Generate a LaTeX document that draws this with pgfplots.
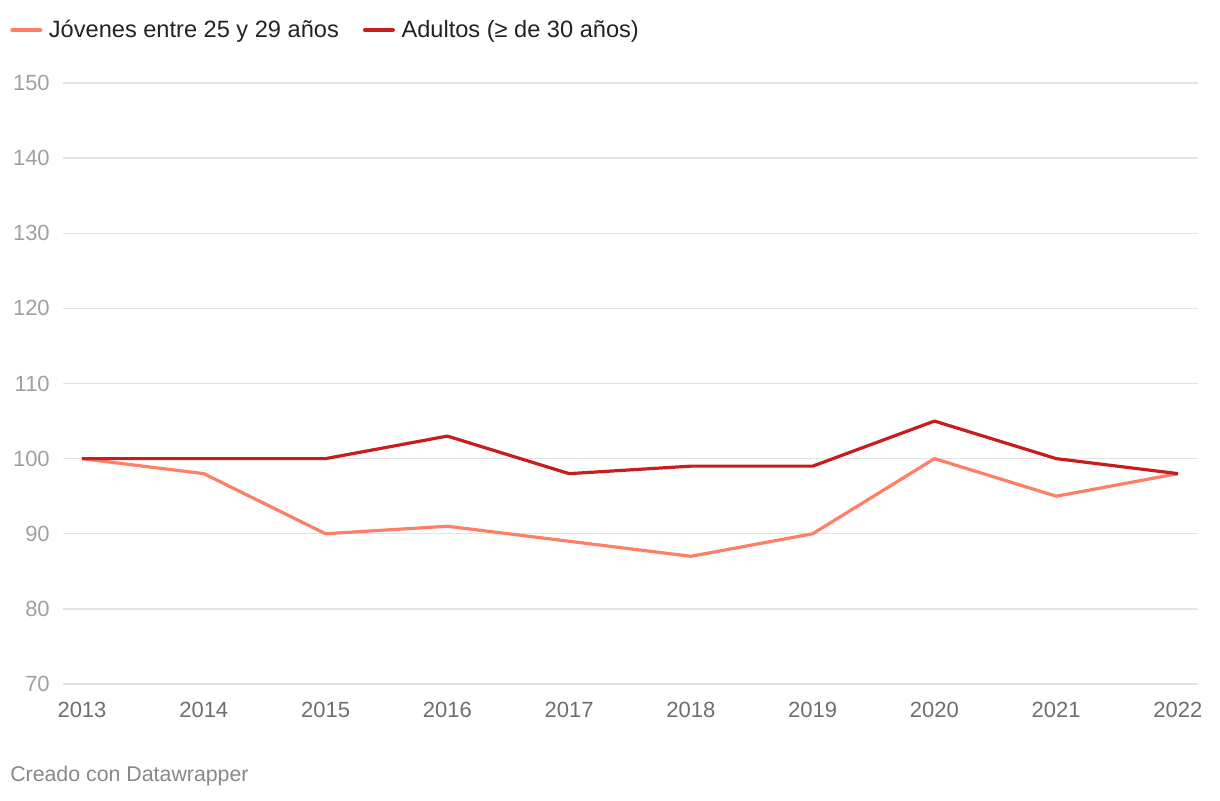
\documentclass[border=0pt]{standalone}
\usepackage{fontspec}
\setmainfont{Liberation Sans}
\usepackage{pgfplots}
\pgfplotsset{compat=1.18}
\definecolor{joven}{HTML}{FF7F66}
\definecolor{adulto}{HTML}{C71E1D}
\definecolor{gridc}{HTML}{E3E3E3}
\definecolor{ylab}{HTML}{A0A0A0}
\definecolor{xlab}{HTML}{6E6E6E}
\definecolor{foot}{HTML}{888888}
\definecolor{legtext}{HTML}{222222}
\begin{document}
\begin{tikzpicture}
\path[use as bounding box] (0,0) rectangle (915pt,600pt);
\begin{axis}[
  at={(47.25pt,87pt)}, anchor=south west,
  scale only axis, width=851.25pt, height=450.75pt,
  xmin=2012.844, xmax=2022.164, ymin=70, ymax=150,
  axis line style={draw=none},
  tick style={draw=none},
  xtick={2013,2014,...,2022},
  ytick={70,80,...,150},
  ymajorgrids, grid style={gridc, line width=1.1pt},
  /pgf/number format/assume math mode=true,
  /pgf/number format/1000 sep={},
  xticklabel style={font=\fontsize{16.5}{20}\selectfont, text=xlab, anchor=north, inner sep=0pt, yshift=-13.5pt},
  yticklabel style={font=\fontsize{16.5}{20}\selectfont, text=ylab, anchor=east, inner sep=0pt, xshift=-9.75pt},
  legend style={at={(-0.0467,1.0882)}, anchor=west, draw=none, fill=none, legend columns=2,
    inner sep=0pt, font=\fontsize{17.7}{21}\selectfont, text=legtext,
    /tikz/every odd column/.append style={column sep=3pt},
    /tikz/every even column/.append style={column sep=16pt}},
  legend cell align=left,
  legend image code/.code={\draw[#1, line width=3pt, line cap=round] (0pt,0pt) -- (21pt,0pt);},
  clip=false,
]
\addplot[joven, line width=2.4pt, line join=round] coordinates {
  (2013,100) (2014,98) (2015,90) (2016,91) (2017,89) (2018,87) (2019,90) (2020,100) (2021,95) (2022,98)};
\addlegendentry{Jóvenes entre 25 y 29 años}
\addplot[adulto, line width=2.4pt, line join=round] coordinates {
  (2013,100) (2014,100) (2015,100) (2016,103) (2017,98) (2018,99) (2019,99) (2020,105) (2021,100) (2022,98)};
\addlegendentry{Adultos (≥ de 30 años)}
\end{axis}
\node[anchor=west, inner sep=0pt, text=foot, font=\fontsize{16}{19}\selectfont] at (7.5pt,18pt) {Creado con Datawrapper};
\end{tikzpicture}
\end{document}
